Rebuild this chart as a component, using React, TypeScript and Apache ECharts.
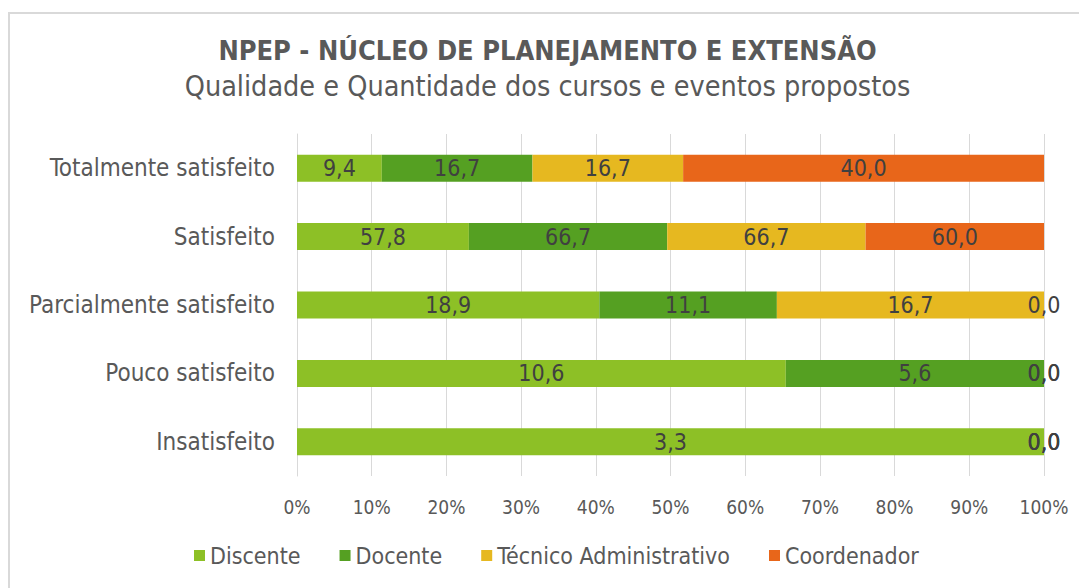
import React, { useEffect, useRef } from "react";
import * as echarts from "echarts";

const categories = [
  "Totalmente satisfeito",
  "Satisfeito",
  "Parcialmente satisfeito",
  "Pouco satisfeito",
  "Insatisfeito",
];
const discente = [9.4, 57.8, 18.9, 10.6, 3.3];
const docente = [16.7, 66.7, 11.1, 5.6, 0.0];
const tecnico = [16.7, 66.7, 16.7, 0.0, 0.0];
const coordenador = [40.0, 60.0, 0.0, 0.0, 0.0];
const xTicks = [0, 10, 20, 30, 40, 50, 60, 70, 80, 90, 100];

const seriesDefs = [
  { name: "Discente", values: discente, color: "#8DC026" },
  { name: "Docente", values: docente, color: "#55A022" },
  { name: "Técnico Administrativo", values: tecnico, color: "#E6B820" },
  { name: "Coordenador", values: coordenador, color: "#E8661A" },
];

const FONT = "'DejaVu Sans Condensed', 'DejaVu Sans', sans-serif";

export default function App() {
  const ref = useRef<HTMLDivElement>(null);
  useEffect(() => {
    if (!ref.current) return;
    const chart = echarts.init(ref.current, null, { renderer: "svg" });
    const totals = categories.map((_, i) =>
      seriesDefs.reduce((s, d) => s + d.values[i], 0)
    );
    chart.setOption({
      animation: false,
      textStyle: { fontFamily: FONT },
      title: [
        {
          text: "NPEP - NÚCLEO DE PLANEJAMENTO E EXTENSÃO",
          left: "center",
          top: 24,
          textStyle: { fontFamily: FONT, fontSize: 27, fontWeight: "bold", color: "#595959" },
        },
        {
          text: "Qualidade e Quantidade dos cursos e eventos propostos",
          left: "center",
          top: 59,
          textStyle: { fontFamily: FONT, fontSize: 28.5, fontWeight: "normal", color: "#595959" },
        },
      ],
      graphic: [
        {
          type: "rect",
          shape: { x: 1, y: 5, width: 1200, height: 700 },
          style: { fill: "none", stroke: "#d9d9d9", lineWidth: 2 },
          silent: true,
        },
      ],
      legend: {
        bottom: 16,
        left: 181,
        itemWidth: 11,
        itemHeight: 11,
        itemGap: 39,
        icon: "rect",
        textStyle: { fontFamily: FONT, fontSize: 23, color: "#595959" },
        data: seriesDefs.map((d) => d.name),
      },
      grid: { left: 289, right: 43, top: 126, bottom: 112, containLabel: false },
      xAxis: {
        type: "value",
        min: 0,
        max: 100,
        interval: 10,
        axisLine: { show: false },
        axisTick: { show: false },
        splitLine: { show: true, lineStyle: { color: "#d9d9d9", width: 1 } },
        axisLabel: {
          formatter: (v: number) => (xTicks.includes(v) ? `${v}%` : ""),
          fontFamily: FONT,
          fontSize: 19,
          color: "#595959",
          margin: 21,
        },
      },
      yAxis: {
        type: "category",
        data: categories,
        inverse: true,
        axisLine: { show: true, lineStyle: { color: "#d9d9d9", width: 1 } },
        axisTick: { show: false },
        axisLabel: { fontFamily: FONT, fontSize: 24, color: "#595959", margin: 22 },
      },
      series: seriesDefs.map((d) => ({
        name: d.name,
        type: "bar",
        stack: "total",
        barWidth: 27,
        itemStyle: { color: d.color },
        label: {
          show: true,
          position: "inside",
          fontFamily: FONT,
          fontSize: 23,
          color: "#404040",
          formatter: (p: any) => d.values[p.dataIndex].toFixed(1).replace(".", ","),
        },
        data: d.values.map((v, i) => (v / totals[i]) * 100),
      })),
    });
    return () => chart.dispose();
  }, []);
  return <div ref={ref} style={{ width: 1079, height: 580 }} />;
}
